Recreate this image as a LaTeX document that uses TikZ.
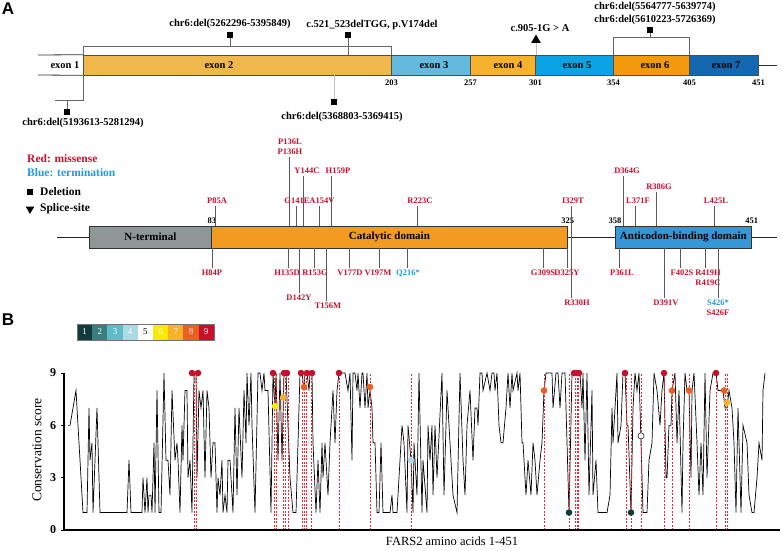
\documentclass[tikz,border=0pt]{standalone}
\usepackage{fontspec}
\setmainfont{Liberation Serif}
\setsansfont{Liberation Sans}
\usetikzlibrary{positioning,calc,shapes.geometric}

\definecolor{mred}{RGB}{200,16,46}
\definecolor{mblue}{RGB}{30,155,225}
\definecolor{dred}{RGB}{235,40,45}
\definecolor{exb}{RGB}{240,184,76}
\definecolor{exc}{RGB}{99,185,222}
\definecolor{exd}{RGB}{246,178,44}
\definecolor{exe}{RGB}{12,163,228}
\definecolor{exf}{RGB}{242,154,12}
\definecolor{exg}{RGB}{20,104,176}
\definecolor{nterm}{RGB}{142,150,150}
\definecolor{catal}{RGB}{243,155,33}
\definecolor{antic}{RGB}{52,152,216}
\definecolor{s1}{RGB}{16,60,62}
\definecolor{s2}{RGB}{59,124,126}
\definecolor{s3}{RGB}{94,188,200}
\definecolor{s4}{RGB}{170,218,227}
\definecolor{s5}{RGB}{255,255,255}
\definecolor{s6}{RGB}{250,233,0}
\definecolor{s7}{RGB}{248,178,42}
\definecolor{s8}{RGB}{238,94,30}
\definecolor{s9}{RGB}{200,16,46}

\tikzset{
  lbl/.style={font=\fontsize{10.5}{12}\selectfont\bfseries, inner sep=0pt},
  leg/.style={font=\fontsize{11.5}{13}\selectfont\bfseries, inner sep=0pt, anchor=west},
  num/.style={font=\fontsize{8.5}{10}\selectfont\bfseries, inner sep=0pt},
  mut/.style={font=\fontsize{8.5}{10}\selectfont\bfseries, text=mred, inner sep=0pt, align=center},
  stem/.style={draw=black!65, line width=0.9pt},
  brk/.style={draw=black!60, line width=1pt},
  exon/.style={draw=black!70, line width=0.6pt, minimum height=20pt, inner sep=0pt, anchor=west},
  dom/.style={draw=black!80, line width=0.8pt, minimum height=22pt, inner sep=0pt, anchor=west,
    font=\fontsize{11}{13}\selectfont\bfseries},
  sq/.style={fill=black, inner sep=0pt, minimum size=6pt},
  tri/.style={regular polygon, regular polygon sides=3, fill=black, inner sep=0pt, minimum size=11pt},
  panel/.style={font=\fontsize{17}{20}\selectfont\sffamily\bfseries, inner sep=0pt},
  cell/.style={minimum width=15.2pt, minimum height=16pt, inner sep=0pt, font=\fontsize{9}{10}\selectfont},
  dashln/.style={draw=dred, line width=0.8pt, dash pattern=on 2pt off 1.5pt},
}

\begin{document}
\begin{tikzpicture}[x=1pt,y=-1pt]
  \useasboundingbox (0,0) rectangle (783,550);

  % ---- A: exon structure
  \node[panel] (pA) at (8,9) {A};
  \foreach \n/\a/\b/\c/\lx in {2/83/391/exb/219, 3/391/470/exc/434, 4/470/535/exd/508,
      5/535/613/exe/577, 6/613/689/exf/655, 7/689/758/exg/726}{
    \node[exon, fill=\c, minimum width={(\b-\a)*1pt}] (ex\n) at (\a,65) {};
    \node[lbl] (exl\n) at (\lx,65) {exon \n};
  }
  \foreach \n/\v in {2/203,3/257,4/301,5/354,6/405,7/451}
    \node[num, below=4pt of ex\n.south east] (en\n) {\v};
  \coordinate (e1t) at (38,55);
  \coordinate (e1b) at (38,75);
  \draw[black!80, line width=0.8pt] (e1t) -- (ex2.north west);
  \draw[black!80, line width=0.8pt] (e1b) -- (ex2.south west);
  \node[lbl] (exl1) at (65,65) {exon 1};
  \coordinate (e7r) at (777,65);
  \draw[black!80, line width=0.8pt] (ex7.east) -- (e7r);

  % deletions above exon 2
  \draw[brk] (ex2.north west) -- ++(0,-8) -| (ex2.north east);
  \node[sq] (d1) at (230,35) {};
  \coordinate (d1b) at (230,47);
  \draw[brk] (d1) -- (d1b);
  \node[lbl, above=3pt of d1] (l1) {chr6:del(5262296-5395849)};
  \node[sq] (d2) at (348,35) {};
  \draw[brk] (d2) -- (d2 |- ex2.north);
  \node[lbl] (l2) at (372,25) {c.521\_523delTGG, p.V174del};

  % deletions below exon 2
  \coordinate (d3c) at (83,100);
  \coordinate (d3l) at (55,100);
  \draw[brk] (ex2.south west) -- (d3c) -- (d3l);
  \node[sq] (d3) at (67,112) {};
  \draw[brk] (d3) -- (d3 |- d3c);
  \node[lbl] (l3) at (83,123) {chr6:del(5193613-5281294)};
  \node[sq] (d4) at (334,102) {};
  \draw[black!25, line width=0.6pt] (d4) -- (d4 |- ex2.south);
  \node[lbl] (l4) at (342,117) {chr6:del(5368803-5369415)};

  % splice site
  \node[tri] (sp) at (536,40) {};
  \draw[black!25, line width=0.5pt] (sp.south) -- (sp.south |- ex4.north);
  \node[lbl] (l5) at (540,28) {c.905-1G > A};

  % deletions over exon 6
  \draw[brk] (ex6.north west) -- ++(0,-17) -| (ex6.north east);
  \node[sq] (d6) at (650,30) {};
  \coordinate (d6b) at (650,38);
  \draw[brk] (d6) -- (d6b);
  \node[lbl, align=center, font=\fontsize{10.5}{13}\selectfont\bfseries] (l6) at (655,13)
    {chr6:del(5564777-5639774)\\chr6:del(5610223-5726369)};

  % ---- A: protein domains
  \node[leg, text=mred] (lg1) at (27,159) {Red: missense};
  \node[leg, text=mblue] (lg2) at (27,173) {Blue: termination};
  \node[sq] (lgs) at (30,192) {};
  \node[leg] (lg3) at (40,192) {Deletion};
  \node[tri, shape border rotate=180, minimum size=10pt] (lgt) at (30,209) {};
  \node[leg] (lg4) at (40,209) {Splice-site};

  \coordinate (bbl) at (57,237);
  \coordinate (bbr) at (777,237);
  \draw[black!85, line width=0.8pt] (bbl) -- (bbr);
  \node[dom, fill=nterm, minimum width=122pt] (nt) at (89,237) {N-terminal};
  \node[dom, fill=catal, minimum width=356pt] (cd) at (211,237) {Catalytic domain};
  \node[dom, fill=antic, minimum width=136pt] (ab) at (615,237) {Anticodon-binding domain};
  \node[num, above=1.5pt of nt.north east] (n83) {83};
  \node[num, above=1.5pt of cd.north east] (n325) {325};
  \node[num, above=1.5pt of ab.north west] (n358) {358};
  \node[num, above=1.5pt of ab.north east] (n451) {451};

  % mutations above
  \foreach \x/\base/\lx/\ly/\txt [count=\i] in {
      215/226/217/201/P85A, 289/226/290/147/{P136L\\P136H}, 296/226/297/201/G141E,
      303/226/307/171/Y144C, 319/226/322/201/A154V, 331/226/338/171/H159P,
      417/226/420/201/R223C, 571/237/573/201/I329T, 623/226/627/171/D364G,
      635/226/638/201/L371F, 656/226/659/187/R386G, 714/226/716/201/L425L}{
    \node[mut] (mu\i) at (\lx,\ly) {\txt};
    \coordinate (mub\i) at (\x,\base);
    \draw[stem] (mub\i) -- ([yshift=-1.5pt]mub\i |- mu\i.south);
  }
  % mutations below
  \foreach \x/\base/\lx/\ly/\txt [count=\i] in {
      212/248/212/273/H84P, 288/248/287/273/H135D, 299/248/299/298/D142Y,
      314/248/315/273/R153G, 326/248/328/306/T156M, 349/248/350/273/V177D,
      379/248/378/273/V197M, 407/248/408/273/{{\color{mblue}Q216*}},
      543/248/543/273/G309S, 567/248/567/273/D325Y, 571/237/577/303/R330H,
      619/248/622/273/P361L, 664/248/666/303/D391V, 680/248/682/273/F402S,
      705/248/708/278/{R419H\\R419C}, 718/248/718/308/{{\color{mblue}S426*}\\S426F}}{
    \node[mut] (md\i) at (\lx,\ly) {\txt};
    \coordinate (mdb\i) at (\x,\base);
    \draw[stem] (mdb\i) -- ([yshift=1.5pt]mdb\i |- md\i.north);
  }

  % ---- B: conservation
  \node[panel] (pB) at (8,320) {B};
  \foreach \k in {1,...,9}
    \node[cell, fill=s\k, text=white] (c\k) at ({77+(\k-0.5)*15.2},332) {\k};
  \node[cell, text=black] at (c5) {5};
  \draw[black!55, line width=0.6pt] (c1.north west) rectangle (c9.south east);

  \begin{scope}[shift={(0,530)}, y=17.44pt]
    \draw[black, line width=0.7pt] plot coordinates {
      (68,6)(70,6)(76,8)(83,1)(87,1)(89,7)(90,4)(92,5)(93,1)(97,7)(100,1)(127,1)(129,4)(131,1)
      (142,1)(143,3)(145,1)(147,3)(148,1)(149,2)(151,2)(152,1)(154,5)(155,1)(157,8)(159,1)(161,1)
      (164,9)(166,4)(168,4)(170,2)(172,8)(175,4)(177,5)(178,4)(180,1)(182,6)(183,4)(185,8)(187,8)
      (188,3)(190,4)(192,1)(194,9)(196,9)(197,3)(199,8)(201,7)(203,8)(205,3)(207,8)(209,7)(211,3)
      (213,5)(215,5)(217,1)(218,3)(220,2)(222,4)(223,1)(225,2)(227,1)(228,4)(230,4)(233,1)(235,7)
      (237,2)(239,7)(242,3)(244,8)(246,5)(247,9)(249,6)(251,9)(252,6)(255,1)(258,9)(260,9)(262,8)
      (264,9)(265,8)(268,8)(271,1)(273,9)(275,7)(276,9)(278,4)(280,9)(282,4)(284,9)(286,9)(288,6)
      (290,3)(293,1)(296,1)(298,5)(300,9)(302,9)(304,8)(305,9)(307,9)(309,8)(310,9)(312,9)(313,5)
      (316,1)(318,4)(320,1)(322,5)(323,3)(325,5)(328,2)(330,5)(333,8)(335,5)(337,8)(339,9)(342,9)
      (345,9)(348,8)(350,9)(352,4)(353,9)(355,9)(357,8)(358,9)(360,7)(362,9)(363,9)(365,7)(367,9)
      (368,7)(370,8)(372,7)(373,5)(375,5)(377,1)(379,1)(381,5)(383,1)(390,1)(392,2)(393,1)(397,1)
      (398,2)(400,4)(402,6)(404,5)(407,1)(408,6)(411,4)(413,1)(414,5)(417,2)(419,9)(422,1)(423,4)
      (427,1)(428,6)(430,4)(432,6)(433,2)(435,6)(437,3)(442,9)(444,2)(447,8)(450,5)(453,2)(457,1)
      (460,9)(463,4)(465,2)(467,6)(470,8)(473,4)(475,7)(477,7)(478,6)(480,9)(482,9)(483,8)(487,9)
      (490,8)(492,9)(494,9)(495,8)(497,9)(499,6)(501,5)(503,5)(506,7)(508,9)(510,7)(512,9)(513,8)
      (517,9)(518,8)(520,9)(522,5)(523,5)(526,2)(528,4)(531,2)(533,5)(535,4)(537,2)(540,4)(542,5)
      (544,8)(546,9)(552,9)(553,7)(556,9)(558,9)(560,7)(562,9)(565,9)(567,5)(569,1)(572,9)(580,9)
      (582,7)(583,9)(585,4)(587,9)(589,2)(592,8)(593,2)(596,4)(598,1)(607,1)(610,2)(612,7)(613,5)
      (617,9)(618,5)(621,6)(623,9)(625,9)(627,6)(628,6)(631,1)(633,7)(635,9)(637,8)(639,9)(641,5)
      (643,1)(647,1)(649,4)(652,5)(654,9)(657,8)(660,6)(662,8)(664,9)(666,3)(667,3)(669,6)(671,6)
      (672,8)(675,9)(677,5)(679,8)(682,1)(683,5)(685,9)(687,8)(689,8)(691,3)(692,8)(694,9)(697,5)
      (699,2)(701,5)(703,2)(705,9)(707,3)(710,8)(713,9)(716,9)(718,8)(723,8)(725,7)(727,7)(729,8)
      (732,7)(734,5)(736,1)(738,7)(741,1)(743,6)(747,5)(749,2)(752,1)(754,1)(757,3)(759,5)(762,4)
      (763,8)(765,9)};
    \foreach \x in {194,196,274,276,283,285,288,302,304,306,311,339,370,411,544,569,575,577,578,
        626,631,641,664,672,689,716,725,727}
      \draw[dashln] (\x,0) -- (\x,9);
    \foreach \x/\s/\c in {192/9/s9,198/9/s9,273/9/s9,284/9/s9,287/9/s9,301/9/s9,307/9/s9,
        312/9/s9,339/9/s9,574/9/s9,577/9/s9,579/9/s9,625/9/s9,664/9/s9,716/9/s9,304/8.2/s8,
        370/8.2/s8,544/8/s8,672/8/s8,689/8/s8,724/8/s8,283/7.6/s7,727/7.3/s7,275/7.1/s6,
        411/4/s4,569/1/s1,631/1/s1}
      \fill[\c] (\x,\s) circle[radius=3.3pt];
    \filldraw[fill=white, draw=black, line width=0.5pt] (641,5.4) circle[radius=3.1pt];
    % axes
    \coordinate (ax0) at (64,0);
    \coordinate (axy) at (64,9);
    \coordinate (axx) at (780,0);
    \draw[line width=1.4pt] (axy) -- (ax0);
    \draw[line width=1.8pt] (ax0) -- (axx);
    \foreach \s in {0,3,6,9}{
      \draw[line width=1pt] (64,\s) -- (60.5,\s);
      \node[font=\fontsize{12}{14}\selectfont\bfseries, inner sep=0pt] (tk\s) at (53,\s) {\s};
    }
  \end{scope}
  \node[rotate=90, font=\fontsize{13.5}{15}\selectfont, inner sep=0pt] (ylab) at (37,450)
    {Conservation score};
  \node[font=\fontsize{12.5}{14}\selectfont, inner sep=0pt] (xlab) at (452,541)
    {FARS2 amino acids 1-451};
\end{tikzpicture}
\end{document}
